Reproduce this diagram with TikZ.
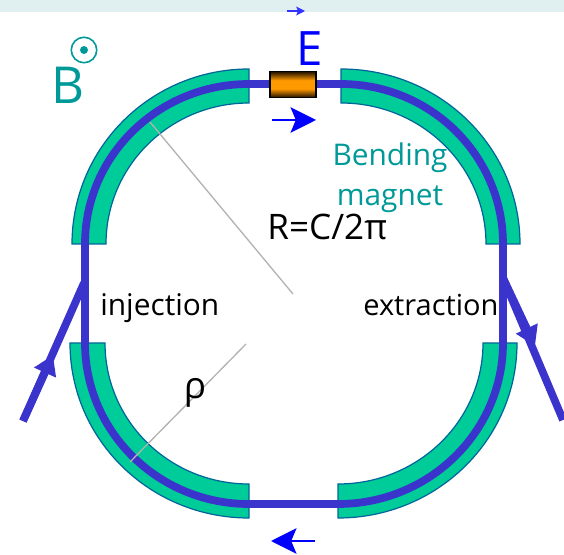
\documentclass[tikz,border=0pt]{standalone}
\usepackage{fontspec}
\setmainfont{Open Sans}
\usetikzlibrary{positioning, arrows.meta}
\definecolor{magnetgreen}{RGB}{0, 204, 153}
\definecolor{magnetedge}{RGB}{0, 102, 153}
\definecolor{beamblue}{RGB}{58, 51, 204}
\definecolor{labelteal}{RGB}{0, 153, 153}
\definecolor{bandpale}{RGB}{224, 240, 240}
\definecolor{gapblue}{RGB}{0, 0, 255}
\pgfdeclareverticalshading{kickershade}{100bp}{
  rgb(0bp)=(0.1,0.05,0); rgb(25bp)=(0.1,0.05,0); rgb(42bp)=(1,0.6,0);
  rgb(58bp)=(1,0.6,0); rgb(75bp)=(0.1,0.05,0); rgb(100bp)=(0.1,0.05,0)}
\tikzset{
  magnet/.style={draw=magnetedge, fill=magnetgreen, line width=0.7pt},
  beam/.style={draw=beamblue, line width=4.4pt},
  radius line/.style={draw=black!30, line width=0.75pt},
  dir arrow/.style={draw=gapblue, line width=1.1pt,
    -{Stealth[length=14.5pt, width=14.5pt, inset=3pt]}},
  mid tip/.style={-{Triangle[length=11pt, width=13pt]}},
  blacklabel/.style={inner sep=0pt, anchor=base west},
  teallabel/.style={font=\fontsize{17}{23}\selectfont, text=labelteal, inner sep=0pt, align=center},
}

\begin{document}
\begin{tikzpicture}[x=0.02cm, y=0.02cm]
\useasboundingbox (0,0) rectangle (564,554);
\fill[bandpale] (0,542) rectangle (564,554);
\draw[gapblue!80, line width=0.6pt, -{Stealth[length=5pt, width=5pt, inset=1pt]}] (287,543) -- (305,543);

% the four bending magnets
\draw[magnet] (72,310) arc[start angle=180, end angle=90, x radius=177, y radius=175]
  -- (249,451) arc[start angle=90, end angle=180, x radius=143, y radius=141] -- cycle;
\draw[magnet] (341,485) arc[start angle=90, end angle=0, x radius=179, y radius=175]
  -- (486,310) arc[start angle=0, end angle=90, x radius=145, y radius=141] -- cycle;
\draw[magnet] (70,211) arc[start angle=180, end angle=270, x radius=179, y radius=175]
  -- (249,70) arc[start angle=270, end angle=180, x radius=144, y radius=141] -- cycle;
\draw[magnet] (338,36) arc[start angle=270, end angle=360, x radius=179, y radius=175]
  -- (483,211) arc[start angle=360, end angle=270, x radius=145, y radius=141] -- cycle;

% closed orbit
\draw[beam] (85,310) arc[start angle=180, end angle=90, x radius=164, y radius=160]
  -- (341,470) arc[start angle=90, end angle=0, x radius=162, y radius=160]
  -- (503,211) arc[start angle=0, end angle=-90, x radius=165, y radius=161]
  -- (249,50) arc[start angle=270, end angle=180, x radius=164, y radius=161] -- cycle;

% injection and extraction lines
\coordinate (injstart) at (23,133);
\coordinate (injtip) at (53,199);
\coordinate (injend) at (84,271);
\coordinate (extstart) at (503,276);
\coordinate (exttip) at (535,208);
\coordinate (extend) at (563,134);
\draw[beam] (injstart) -- (injend);
\draw[beam] (extstart) -- (extend);
\draw[beam, mid tip] (injstart) -- (injtip);
\draw[beam, mid tip] (extstart) -- (exttip);

% radii
\coordinate (bigin) at (150,432);
\coordinate (bigout) at (293,260);
\coordinate (rhoin) at (130,92);
\coordinate (rhoout) at (246,210);
\draw[radius line] (bigin) -- (bigout);
\draw[radius line] (rhoin) -- (rhoout);

\node[draw=black, line width=0.9pt, shading=kickershade, minimum width=26pt, minimum height=15pt, inner sep=0pt] (kicker) at (293,469.5) {};
\draw[dir arrow] (272,434) -- (316,434);
\draw[dir arrow] (315,13) -- (271,13);

\node[font=\fontsize{27}{30}\selectfont, text=gapblue, inner sep=0pt] (elabel) at (309.5,505) {E};
\node[font=\fontsize{29}{34}\selectfont, text=labelteal, inner sep=0pt] (blabel) at (68,469) {B};
\node[circle, draw=labelteal, line width=0.9pt, minimum size=14.5pt, inner sep=0pt] (bdot) at (84,504) {};
\fill[labelteal] (bdot.center) circle (4);
\node[teallabel] (bending) at (390,376) {Bending\\magnet};
\node[blacklabel, font=\fontsize{20}{24}\selectfont] (circum) at (267,314) {R=C/2π};
\node[blacklabel, font=\fontsize{17}{20}\selectfont] (injection) at (100,238) {injection};
\node[blacklabel, font=\fontsize{16.5}{20}\selectfont] (extraction) at (363,238) {extraction};
\node[inner sep=0pt, font=\fontsize{21}{24}\selectfont] (rho) at (195,161) {ρ};
\end{tikzpicture}
\end{document}
